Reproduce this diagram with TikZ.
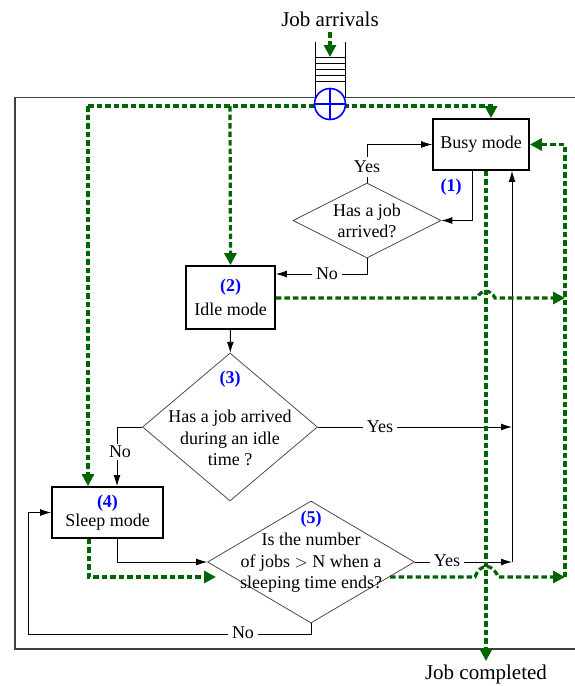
\documentclass[tikz,border=0pt]{standalone}
\usepackage{fontspec}
\setmainfont{Liberation Serif}
\usetikzlibrary{shapes.geometric,arrows.meta}
\definecolor{jobgreen}{RGB}{0,100,0}
\newcommand{\txt}{\fontsize{18}{21.5}\selectfont}
\tikzset{
  modebox/.style={draw,line width=1.8pt,inner sep=0pt,align=center,font=\txt},
  decision/.style={draw=black!70,diamond,inner sep=0pt,line width=0.8pt},
  dtext/.style={align=center,font=\txt,inner sep=0pt},
  flow/.style={draw=black,line width=0.9pt,-{Latex[length=11pt,width=7pt]}},
  jobflow/.style={draw=jobgreen,line width=3.2pt,dash pattern=on 5.5pt off 3pt,-{Triangle[length=12pt,width=12pt]}},
  tag/.style={text=blue,font=\txt\bfseries,inner sep=1pt},
  ans/.style={fill=white,inner sep=4pt,font=\txt},
}

\begin{document}
\begin{tikzpicture}[x=1pt,y=-1pt]
\useasboundingbox (0,0) rectangle (575,686);
% frame and queue
\draw[black!75,line width=1.1pt] (576,97.5) -- (15,97.5) -- (15,649) -- (576,649);
\draw[line width=0.9pt] (315,42) -- (315,97.5) (345,42) -- (345,97.5);
\foreach \y in {57,63,69,75,81}
  \draw[line width=0.9pt] (315,\y) -- (345,\y);
\node[font=\fontsize{21}{24}\selectfont] (arrivals) at (330,19) {Job arrivals};

% modes and decisions
\node[modebox,minimum width=96pt,minimum height=51pt] (busy) at (481,144.5) {Busy mode};
\node[modebox,minimum width=89pt,minimum height=63pt] (idle) at (230.5,297.5)
  {\textcolor{blue}{\bfseries (2)}\\[3pt]Idle mode};
\node[modebox,minimum width=111pt,minimum height=51pt] (sleep) at (107.5,512.5)
  {\textcolor{blue}{\bfseries (4)}\\[-2.5pt]Sleep mode};
\node[decision,minimum width=148pt,minimum height=75pt] (d1) at (367,220.5) {};
\node[decision,minimum width=175pt,minimum height=148pt] (d3) at (230,427) {};
\node[decision,minimum width=207pt,minimum height=122pt] (d5) at (311,562) {};
\node[dtext] (q1) at (367,221) {Has a job\\arrived?};
\node[dtext] (q3) at (230,438) {Has a job arrived\\during an idle\\time ?};
\node[dtext] (q5) at (311,563) {Is the number\\of jobs $>$ N when a\\sleeping time ends?};
\node[tag] (t1) at (451,187) {(1)};
\node[tag] (t3) at (230,379) {(3)};
\node[tag,fill=white] (t5) at (311,519) {(5)};

% black flow
\draw[flow] (d1.north) -- (d1.north |- busy.west) -- (busy.west);
\draw[flow] (busy.south -| 472,0) |- (d1.east);
\draw[flow] (d1.south) |- (idle.east |- 0,274);
\draw[flow] (idle) -- (d3);
\draw[flow] (d3.east) -- (512,427);
\draw[flow] (d3.west) -| (sleep.north -| 117,0);
\draw[flow] (sleep.south -| 117,0) |- (d5.west);
\draw[flow] (d5.east) -- (512,562);
\draw[flow] (512,562) -- (busy.south -| 512,0);
\draw[flow] (d5.south) -- (311,634) -- (28,634) |- (sleep.west);
\node[ans] (y1) at (367,167) {Yes};
\node[ans] (n1) at (327,274) {No};
\node[ans] (y3) at (380,427) {Yes};
\node[ans,inner sep=2pt] (n3) at (120,452) {No};
\node[ans] (y5) at (447,561) {Yes};
\node[ans] (n5) at (243,633) {No};

% job paths
\draw[jobflow] (330,32) -- (330,57);
\draw[jobflow] (88,106) -- (491,106) -- (busy.north -| 491,0);
\draw[jobflow] (230,106) -- (idle.north);
\draw[jobflow] (88,106) -- (sleep.north -| 88,0);
\draw[jobflow] (idle.east |- 0,298) -- (477,298) .. controls (481,289) and (491,289) .. (495,298) -- (565,298);
\draw[jobflow] (565,577) -- (565,144.5) -- (busy.east);
\draw[jobflow] (busy.south -| 486,0) -- (486,661);
\draw[jobflow] (sleep.south -| 89,0) -- (89,577) -- (216,577);
\draw[jobflow] (390,577) -- (475,577) .. controls (480,563) and (493,563) .. (498,577) -- (565,577);
\node[font=\fontsize{21}{24}\selectfont] (done) at (486,674) {Job completed};

% arrival point
\node[circle,draw=blue,fill=white,line width=1.6pt,minimum size=31pt,inner sep=0pt] (mux) at (330,104) {};
\draw[blue,line width=1.6pt] (mux.north) -- (mux.south) (mux.west) -- (mux.east);
\end{tikzpicture}
\end{document}
